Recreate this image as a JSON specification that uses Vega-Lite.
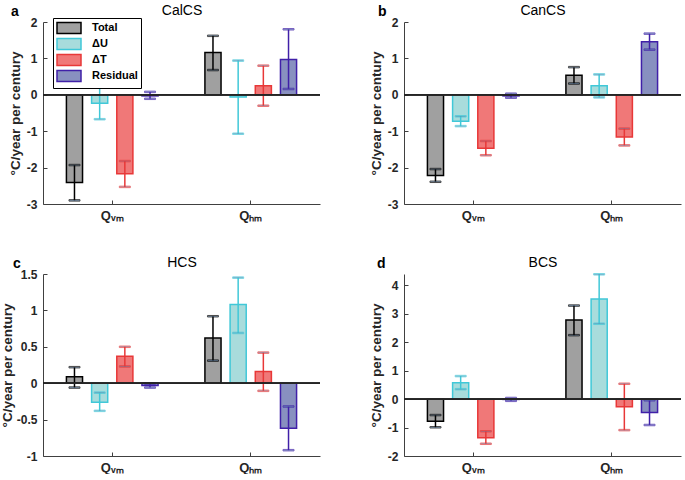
{
  "$schema": "https://vega.github.io/schema/vega-lite/v6.json",
  "padding": {"left": 0, "top": 3, "right": 0, "bottom": 0},
  "config": {
    "font": "Liberation Sans",
    "view": {"stroke": null},
    "axis": {"domainColor": "#404040", "tickColor": "#404040", "labelColor": "#262626", "titleColor": "#262626", "labelFontWeight": "bold", "labelFontSize": 12, "titleFontWeight": "bold", "titleFontSize": 13.5, "grid": false, "domainWidth": 1, "tickSize": -4},
    "title": {"anchor": "start", "frame": "group", "fontSize": 14, "fontWeight": "bold", "color": "black", "offset": 0}
  },
  "datasets": {
    "bars": [
      {"panel": "CalCS", "q": "Qvm", "comp": "Total", "value": -2.41, "lo": -2.90, "hi": -1.93},
      {"panel": "CalCS", "q": "Qvm", "comp": "ΔU", "value": -0.23, "lo": -0.67, "hi": 0.22},
      {"panel": "CalCS", "q": "Qvm", "comp": "ΔT", "value": -2.17, "lo": -2.53, "hi": -1.82},
      {"panel": "CalCS", "q": "Qvm", "comp": "Residual", "value": -0.03, "lo": -0.11, "hi": 0.08},
      {"panel": "CalCS", "q": "Qhm", "comp": "Total", "value": 1.16, "lo": 0.68, "hi": 1.62},
      {"panel": "CalCS", "q": "Qhm", "comp": "ΔU", "value": -0.06, "lo": -1.07, "hi": 0.94},
      {"panel": "CalCS", "q": "Qhm", "comp": "ΔT", "value": 0.25, "lo": -0.30, "hi": 0.80},
      {"panel": "CalCS", "q": "Qhm", "comp": "Residual", "value": 0.97, "lo": 0.16, "hi": 1.80},
      {"panel": "CanCS", "q": "Qvm", "comp": "Total", "value": -2.22, "lo": -2.39, "hi": -2.04},
      {"panel": "CanCS", "q": "Qvm", "comp": "ΔU", "value": -0.73, "lo": -0.86, "hi": -0.59},
      {"panel": "CanCS", "q": "Qvm", "comp": "ΔT", "value": -1.47, "lo": -1.66, "hi": -1.27},
      {"panel": "CanCS", "q": "Qvm", "comp": "Residual", "value": -0.03, "lo": -0.08, "hi": 0.03},
      {"panel": "CanCS", "q": "Qhm", "comp": "Total", "value": 0.54, "lo": 0.31, "hi": 0.76},
      {"panel": "CanCS", "q": "Qhm", "comp": "ΔU", "value": 0.25, "lo": -0.07, "hi": 0.56},
      {"panel": "CanCS", "q": "Qhm", "comp": "ΔT", "value": -1.16, "lo": -1.39, "hi": -0.93},
      {"panel": "CanCS", "q": "Qhm", "comp": "Residual", "value": 1.46, "lo": 1.24, "hi": 1.68},
      {"panel": "HCS", "q": "Qvm", "comp": "Total", "value": 0.09, "lo": -0.06, "hi": 0.22},
      {"panel": "HCS", "q": "Qvm", "comp": "ΔU", "value": -0.26, "lo": -0.38, "hi": -0.13},
      {"panel": "HCS", "q": "Qvm", "comp": "ΔT", "value": 0.37, "lo": 0.23, "hi": 0.50},
      {"panel": "HCS", "q": "Qvm", "comp": "Residual", "value": -0.03, "lo": -0.06, "hi": -0.005},
      {"panel": "HCS", "q": "Qhm", "comp": "Total", "value": 0.62, "lo": 0.31, "hi": 0.92},
      {"panel": "HCS", "q": "Qhm", "comp": "ΔU", "value": 1.08, "lo": 0.69, "hi": 1.45},
      {"panel": "HCS", "q": "Qhm", "comp": "ΔT", "value": 0.16, "lo": -0.105, "hi": 0.42},
      {"panel": "HCS", "q": "Qhm", "comp": "Residual", "value": -0.62, "lo": -0.92, "hi": -0.32},
      {"panel": "BCS", "q": "Qvm", "comp": "Total", "value": -0.78, "lo": -0.99, "hi": -0.56},
      {"panel": "BCS", "q": "Qvm", "comp": "ΔU", "value": 0.58, "lo": 0.35, "hi": 0.81},
      {"panel": "BCS", "q": "Qvm", "comp": "ΔT", "value": -1.36, "lo": -1.57, "hi": -1.13},
      {"panel": "BCS", "q": "Qvm", "comp": "Residual", "value": -0.01, "lo": -0.06, "hi": 0.04},
      {"panel": "BCS", "q": "Qhm", "comp": "Total", "value": 2.78, "lo": 2.25, "hi": 3.29},
      {"panel": "BCS", "q": "Qhm", "comp": "ΔU", "value": 3.52, "lo": 2.65, "hi": 4.39},
      {"panel": "BCS", "q": "Qhm", "comp": "ΔT", "value": -0.27, "lo": -1.09, "hi": 0.54},
      {"panel": "BCS", "q": "Qhm", "comp": "Residual", "value": -0.47, "lo": -0.91, "hi": -0.04}
    ]
  },
  "columns": 2,
  "bounds": "flush",
  "spacing": {"row": 70, "column": 84},
  "concat": [
    {
      "width": 277, "height": 182,
      "title": {"text": "a", "dx": -32, "dy": 20},
      "data": {"name": "bars"},
      "transform": [{"filter": "datum.panel == 'CalCS'"}],
      "resolve": {"axis": {"x": "independent"}},
      "layer": [
        {
          "mark": {"type": "bar", "strokeWidth": 1.5},
          "encoding": {
            "x": {"field": "q", "type": "nominal", "scale": {"domain": ["Qvm", "Qhm"], "paddingInner": 0, "paddingOuter": 0}, "axis": {"title": null, "labelAngle": 0, "labelFontSize": 13, "labelPadding": 9, "labelExpr": "datum.value == 'Qvm' ? 'Qᵥₘ' : 'Qₕₘ'"}},
            "xOffset": {"field": "comp", "type": "nominal", "scale": {"domain": ["Total", "ΔU", "ΔT", "Residual"], "paddingInner": 0.36, "paddingOuter": 0.93}},
            "y": {"field": "value", "type": "quantitative", "scale": {"domain": [-3, 2], "nice": false}, "axis": {"title": "°C/year per century", "tickCount": 5, "labelExpr": "'' + datum.value", "labelPadding": 10, "titlePadding": 4}},
            "fill": {"field": "comp", "type": "nominal", "scale": {"domain": ["Total", "ΔU", "ΔT", "Residual"], "range": ["#a0a0a0", "#a8dcdc", "#f07878", "#8890c0"]},
              "legend": {"orient": "none", "legendX": 10, "legendY": -4, "title": null, "symbolType": "M-2,-0.9H2V0.9H-2Z", "symbolSize": 144, "symbolOffset": 6, "symbolStrokeWidth": 1.5, "symbolOpacity": 1, "labelFontWeight": "bold", "labelFontSize": 11, "labelColor": "black", "padding": 3, "strokeColor": "black", "fillColor": "white", "rowPadding": -4, "labelOffset": 16}},
            "stroke": {"field": "comp", "type": "nominal", "scale": {"domain": ["Total", "ΔU", "ΔT", "Residual"], "range": ["#000000", "#40c8d8", "#e83838", "#4020a8"]},
              "legend": {"orient": "none", "legendX": 10, "legendY": -4, "title": null, "symbolType": "M-2,-0.9H2V0.9H-2Z", "symbolSize": 144, "symbolOffset": 6, "symbolStrokeWidth": 1.5, "symbolOpacity": 1, "labelFontWeight": "bold", "labelFontSize": 11, "labelColor": "black", "padding": 3, "strokeColor": "black", "fillColor": "white", "rowPadding": -4, "labelOffset": 16}}
          }
        },
        {
          "mark": {"type": "rule", "strokeWidth": 1.5},
          "encoding": {
            "x": {"field": "q", "type": "nominal", "axis": null},
            "xOffset": {"field": "comp", "type": "nominal"},
            "y": {"field": "lo", "type": "quantitative"},
            "y2": {"field": "hi"},
            "stroke": {"field": "comp", "type": "nominal", "legend": null}
          }
        },
        {
          "mark": {"type": "tick", "size": 11, "thickness": 1.5},
          "encoding": {
            "x": {"field": "q", "type": "nominal", "axis": null},
            "xOffset": {"field": "comp", "type": "nominal"},
            "y": {"field": "lo", "type": "quantitative"},
            "stroke": {"field": "comp", "type": "nominal", "legend": null}
          }
        },
        {
          "mark": {"type": "tick", "size": 11, "thickness": 1.5},
          "encoding": {
            "x": {"field": "q", "type": "nominal", "axis": {"orient": "top", "title": "CalCS", "labels": false, "ticks": false, "domain": false, "titleFontWeight": "normal", "titleFontSize": 14, "titleColor": "black", "titlePadding": 5}},
            "xOffset": {"field": "comp", "type": "nominal"},
            "y": {"field": "hi", "type": "quantitative"},
            "stroke": {"field": "comp", "type": "nominal", "legend": null}
          }
        },
        {
          "mark": {"type": "rule", "color": "#262626", "strokeWidth": 1},
          "encoding": {"y": {"datum": 0}}
        }
      ]
    },
    {
      "width": 277, "height": 182,
      "title": {"text": "b", "dx": -26, "dy": 20},
      "data": {"name": "bars"},
      "transform": [{"filter": "datum.panel == 'CanCS'"}],
      "resolve": {"axis": {"x": "independent"}},
      "layer": [
        {
          "mark": {"type": "bar", "strokeWidth": 1.5},
          "encoding": {
            "x": {"field": "q", "type": "nominal", "scale": {"domain": ["Qvm", "Qhm"], "paddingInner": 0, "paddingOuter": 0}, "axis": {"title": null, "labelAngle": 0, "labelFontSize": 13, "labelPadding": 9, "labelExpr": "datum.value == 'Qvm' ? 'Qᵥₘ' : 'Qₕₘ'"}},
            "xOffset": {"field": "comp", "type": "nominal", "scale": {"domain": ["Total", "ΔU", "ΔT", "Residual"], "paddingInner": 0.36, "paddingOuter": 0.93}},
            "y": {"field": "value", "type": "quantitative", "scale": {"domain": [-3, 2], "nice": false}, "axis": {"title": "°C/year per century", "tickCount": 5, "labelExpr": "'' + datum.value", "labelPadding": 10, "titlePadding": 4}},
            "fill": {"field": "comp", "type": "nominal", "scale": {"domain": ["Total", "ΔU", "ΔT", "Residual"], "range": ["#a0a0a0", "#a8dcdc", "#f07878", "#8890c0"]}, "legend": null},
            "stroke": {"field": "comp", "type": "nominal", "scale": {"domain": ["Total", "ΔU", "ΔT", "Residual"], "range": ["#000000", "#40c8d8", "#e83838", "#4020a8"]}, "legend": null}
          }
        },
        {
          "mark": {"type": "rule", "strokeWidth": 1.5},
          "encoding": {
            "x": {"field": "q", "type": "nominal", "axis": null},
            "xOffset": {"field": "comp", "type": "nominal"},
            "y": {"field": "lo", "type": "quantitative"},
            "y2": {"field": "hi"},
            "stroke": {"field": "comp", "type": "nominal", "legend": null}
          }
        },
        {
          "mark": {"type": "tick", "size": 11, "thickness": 1.5},
          "encoding": {
            "x": {"field": "q", "type": "nominal", "axis": null},
            "xOffset": {"field": "comp", "type": "nominal"},
            "y": {"field": "lo", "type": "quantitative"},
            "stroke": {"field": "comp", "type": "nominal", "legend": null}
          }
        },
        {
          "mark": {"type": "tick", "size": 11, "thickness": 1.5},
          "encoding": {
            "x": {"field": "q", "type": "nominal", "axis": {"orient": "top", "title": "CanCS", "labels": false, "ticks": false, "domain": false, "titleFontWeight": "normal", "titleFontSize": 14, "titleColor": "black", "titlePadding": 5}},
            "xOffset": {"field": "comp", "type": "nominal"},
            "y": {"field": "hi", "type": "quantitative"},
            "stroke": {"field": "comp", "type": "nominal", "legend": null}
          }
        },
        {
          "mark": {"type": "rule", "color": "#262626", "strokeWidth": 1},
          "encoding": {"y": {"datum": 0}}
        }
      ]
    },
    {
      "width": 277, "height": 182,
      "title": {"text": "c", "dx": -30, "dy": 20},
      "data": {"name": "bars"},
      "transform": [{"filter": "datum.panel == 'HCS'"}],
      "resolve": {"axis": {"x": "independent"}},
      "layer": [
        {
          "mark": {"type": "bar", "strokeWidth": 1.5},
          "encoding": {
            "x": {"field": "q", "type": "nominal", "scale": {"domain": ["Qvm", "Qhm"], "paddingInner": 0, "paddingOuter": 0}, "axis": {"title": null, "labelAngle": 0, "labelFontSize": 13, "labelPadding": 9, "labelExpr": "datum.value == 'Qvm' ? 'Qᵥₘ' : 'Qₕₘ'"}},
            "xOffset": {"field": "comp", "type": "nominal", "scale": {"domain": ["Total", "ΔU", "ΔT", "Residual"], "paddingInner": 0.36, "paddingOuter": 0.93}},
            "y": {"field": "value", "type": "quantitative", "scale": {"domain": [-1, 1.5], "nice": false}, "axis": {"title": "°C/year per century", "tickCount": 5, "labelExpr": "'' + datum.value", "labelPadding": 10, "titlePadding": 2}},
            "fill": {"field": "comp", "type": "nominal", "scale": {"domain": ["Total", "ΔU", "ΔT", "Residual"], "range": ["#a0a0a0", "#a8dcdc", "#f07878", "#8890c0"]}, "legend": null},
            "stroke": {"field": "comp", "type": "nominal", "scale": {"domain": ["Total", "ΔU", "ΔT", "Residual"], "range": ["#000000", "#40c8d8", "#e83838", "#4020a8"]}, "legend": null}
          }
        },
        {
          "mark": {"type": "rule", "strokeWidth": 1.5},
          "encoding": {
            "x": {"field": "q", "type": "nominal", "axis": null},
            "xOffset": {"field": "comp", "type": "nominal"},
            "y": {"field": "lo", "type": "quantitative"},
            "y2": {"field": "hi"},
            "stroke": {"field": "comp", "type": "nominal", "legend": null}
          }
        },
        {
          "mark": {"type": "tick", "size": 11, "thickness": 1.5},
          "encoding": {
            "x": {"field": "q", "type": "nominal", "axis": null},
            "xOffset": {"field": "comp", "type": "nominal"},
            "y": {"field": "lo", "type": "quantitative"},
            "stroke": {"field": "comp", "type": "nominal", "legend": null}
          }
        },
        {
          "mark": {"type": "tick", "size": 11, "thickness": 1.5},
          "encoding": {
            "x": {"field": "q", "type": "nominal", "axis": {"orient": "top", "title": "HCS", "labels": false, "ticks": false, "domain": false, "titleFontWeight": "normal", "titleFontSize": 14, "titleColor": "black", "titlePadding": 5}},
            "xOffset": {"field": "comp", "type": "nominal"},
            "y": {"field": "hi", "type": "quantitative"},
            "stroke": {"field": "comp", "type": "nominal", "legend": null}
          }
        },
        {
          "mark": {"type": "rule", "color": "#262626", "strokeWidth": 1},
          "encoding": {"y": {"datum": 0}}
        }
      ]
    },
    {
      "width": 277, "height": 182,
      "title": {"text": "d", "dx": -27, "dy": 20},
      "data": {"name": "bars"},
      "transform": [{"filter": "datum.panel == 'BCS'"}],
      "resolve": {"axis": {"x": "independent"}},
      "layer": [
        {
          "mark": {"type": "bar", "strokeWidth": 1.5},
          "encoding": {
            "x": {"field": "q", "type": "nominal", "scale": {"domain": ["Qvm", "Qhm"], "paddingInner": 0, "paddingOuter": 0}, "axis": {"title": null, "labelAngle": 0, "labelFontSize": 13, "labelPadding": 9, "labelExpr": "datum.value == 'Qvm' ? 'Qᵥₘ' : 'Qₕₘ'"}},
            "xOffset": {"field": "comp", "type": "nominal", "scale": {"domain": ["Total", "ΔU", "ΔT", "Residual"], "paddingInner": 0.36, "paddingOuter": 0.93}},
            "y": {"field": "value", "type": "quantitative", "scale": {"domain": [-2, 4.4], "nice": false}, "axis": {"title": "°C/year per century", "tickCount": 6, "labelExpr": "'' + datum.value", "labelPadding": 10, "titlePadding": 4}},
            "fill": {"field": "comp", "type": "nominal", "scale": {"domain": ["Total", "ΔU", "ΔT", "Residual"], "range": ["#a0a0a0", "#a8dcdc", "#f07878", "#8890c0"]}, "legend": null},
            "stroke": {"field": "comp", "type": "nominal", "scale": {"domain": ["Total", "ΔU", "ΔT", "Residual"], "range": ["#000000", "#40c8d8", "#e83838", "#4020a8"]}, "legend": null}
          }
        },
        {
          "mark": {"type": "rule", "strokeWidth": 1.5},
          "encoding": {
            "x": {"field": "q", "type": "nominal", "axis": null},
            "xOffset": {"field": "comp", "type": "nominal"},
            "y": {"field": "lo", "type": "quantitative"},
            "y2": {"field": "hi"},
            "stroke": {"field": "comp", "type": "nominal", "legend": null}
          }
        },
        {
          "mark": {"type": "tick", "size": 11, "thickness": 1.5},
          "encoding": {
            "x": {"field": "q", "type": "nominal", "axis": null},
            "xOffset": {"field": "comp", "type": "nominal"},
            "y": {"field": "lo", "type": "quantitative"},
            "stroke": {"field": "comp", "type": "nominal", "legend": null}
          }
        },
        {
          "mark": {"type": "tick", "size": 11, "thickness": 1.5},
          "encoding": {
            "x": {"field": "q", "type": "nominal", "axis": {"orient": "top", "title": "BCS", "labels": false, "ticks": false, "domain": false, "titleFontWeight": "normal", "titleFontSize": 14, "titleColor": "black", "titlePadding": 5}},
            "xOffset": {"field": "comp", "type": "nominal"},
            "y": {"field": "hi", "type": "quantitative"},
            "stroke": {"field": "comp", "type": "nominal", "legend": null}
          }
        },
        {
          "mark": {"type": "rule", "color": "#262626", "strokeWidth": 1},
          "encoding": {"y": {"datum": 0}}
        }
      ]
    }
  ]
}
